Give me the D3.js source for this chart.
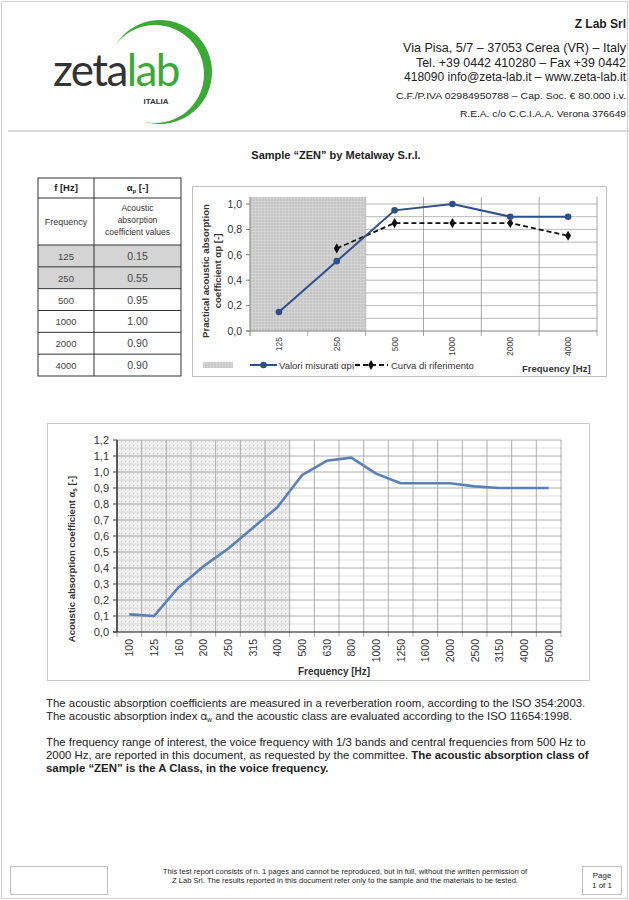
<!DOCTYPE html>
<html><head><meta charset="utf-8">
<script src="https://cdn.jsdelivr.net/npm/d3@7"></script>
<style>
html,body{margin:0;padding:0;background:#fff;}
svg{display:block;font-family:"Liberation Sans",Arial,sans-serif;}
</style></head>
<body>
<svg id="page" width="629" height="900"></svg>
<script>
// ---------- data ----------
const topCats = ["125","250","500","1000","2000","4000"];
const measured = [0.15,0.55,0.95,1.00,0.90,0.90];
const reference = [null,0.65,0.85,0.85,0.85,0.75];
const topYTicks = [0,0.2,0.4,0.6,0.8,1.0];
const shadedTop = ["125","250"];

const thirdOctave = ["100","125","160","200","250","315","400","500","630","800","1000","1250","1600","2000","2500","3150","4000","5000"];
const alphaS = [0.11,0.10,0.28,0.41,0.52,0.65,0.78,0.98,1.07,1.09,0.99,0.93,0.93,0.93,0.91,0.90,0.90,0.90];
const bottomYTicks = [0,0.1,0.2,0.3,0.4,0.5,0.6,0.7,0.8,0.9,1.0,1.1,1.2];
const shadedBottom = ["100","125","160","200","250","315","400"];

const headerLines = [
  "Via Pisa, 5/7 \u2013 37053 Cerea (VR) \u2013 Italy",
  "Tel. +39 0442 410280 \u2013 Fax +39 0442",
  "418090 info@zeta-lab.it \u2013 www.zeta-lab.it"
];
const headerSmall = [
  "C.F./P.IVA 02984950788 \u2013 Cap. Soc. \u20ac 80.000 i.v.",
  "R.E.A. c/o C.C.I.A.A. Verona 376649"
];

// ---------- page ----------
const svg = d3.select("#page");
const fmtComma = d => d3.format(".1f")(d).replace(".", ",");
const defs = svg.append("defs");

const p1 = defs.append("pattern").attr("id","hatchTop").attr("width",3).attr("height",3).attr("patternUnits","userSpaceOnUse");
p1.append("rect").attr("width",3).attr("height",3).attr("fill","#c4c4c4");
p1.append("path").attr("d","M0,0.5H3M0.5,0V3").attr("stroke","#d6d6d6").attr("stroke-width",0.8);
const p2 = defs.append("pattern").attr("id","dotsBottom").attr("width",4).attr("height",4).attr("patternUnits","userSpaceOnUse");
p2.append("rect").attr("width",4).attr("height",4).attr("fill","#efefef");
p2.append("rect").attr("x",1).attr("y",1).attr("width",1).attr("height",1).attr("fill","#c9c9c9");

svg.append("rect").attr("x",1.5).attr("y",1.5).attr("width",626).attr("height",897)
  .attr("fill","none").attr("stroke","#d0d0d0").attr("stroke-width",1);
svg.append("line").attr("x1",8).attr("x2",629).attr("y1",131).attr("y2",131)
  .attr("stroke","#c8c8c8").attr("stroke-width",1.5);

// logo
const logoMask = defs.append("mask").attr("id","crescent");
logoMask.append("rect").attr("width",629).attr("height",200).attr("fill","#fff");
logoMask.append("circle").attr("cx",155).attr("cy",74).attr("r",49).attr("fill","#000");
svg.append("circle").attr("cx",160).attr("cy",72).attr("r",52).attr("fill","#3aa935").attr("mask","url(#crescent)");
const logoText = svg.append("text").attr("x",53).attr("y",86).attr("font-family","Lato, 'Open Sans', sans-serif")
  .attr("font-size",44).attr("letter-spacing",-1.6);
logoText.append("tspan").attr("fill","#333333").text("zeta");
logoText.append("tspan").attr("fill","#3aa935").text("lab");
svg.append("text").attr("x",156).attr("y",104).attr("text-anchor","middle").attr("font-size",8)
  .attr("font-weight","bold").attr("fill","#333").text("ITALIA");

// header text
svg.append("text").attr("x",626).attr("y",28).attr("text-anchor","end").attr("font-size",12)
  .attr("font-weight","bold").attr("fill","#222").text("Z Lab Srl");
const hw = [223, 210, 222];
headerLines.forEach((t,i) => {
  svg.append("text").attr("x",626).attr("y",52 + i*14.5).attr("text-anchor","end")
    .attr("font-size",12).attr("fill","#222").attr("textLength",hw[i]).attr("lengthAdjust","spacingAndGlyphs").text(t);
});
const sw = [230, 166];
headerSmall.forEach((t,i) => {
  svg.append("text").attr("x",626).attr("y",99 + i*18).attr("text-anchor","end")
    .attr("font-size",9).attr("fill","#222").attr("textLength",sw[i]).attr("lengthAdjust","spacingAndGlyphs").text(t);
});

svg.append("text").attr("x",336).attr("y",159).attr("text-anchor","middle").attr("font-size",11)
  .attr("font-weight","bold").attr("fill","#222").text("Sample \u201cZEN\u201d by Metalway S.r.l.");

// ---------- table ----------
const tx0 = 38, tx1 = 94, tx2 = 181;
const ty0 = 178, ty1 = 198, ty2 = 245, ty3 = 376;
const rowY = d3.scaleBand().domain(topCats).range([ty2, ty3]);
const tg = svg.append("g");
shadedTop.forEach(c => {
  tg.append("rect").attr("x",tx0).attr("y",rowY(c)).attr("width",tx2-tx0).attr("height",rowY.bandwidth()).attr("fill","#d4d4d4");
});
tg.append("rect").attr("x",tx0).attr("y",ty0).attr("width",tx2-tx0).attr("height",ty3-ty0)
  .attr("fill","none").attr("stroke","#333").attr("stroke-width",1);
tg.append("line").attr("x1",tx1).attr("x2",tx1).attr("y1",ty0).attr("y2",ty3).attr("stroke","#333");
[ty1, ty2].concat(topCats.slice(1).map(c => rowY(c))).forEach(y => {
  tg.append("line").attr("x1",tx0).attr("x2",tx2).attr("y1",y).attr("y2",y).attr("stroke","#333").attr("stroke-width",1);
});
const cx1 = (tx0+tx1)/2, cx2 = (tx1+tx2)/2;
tg.append("text").attr("x",cx1).attr("y",191).attr("text-anchor","middle").attr("font-size",9.5).attr("font-weight","bold").attr("fill","#222").text("f [Hz]");
const ah = tg.append("text").attr("x",cx2).attr("y",191).attr("text-anchor","middle").attr("font-size",9.5).attr("font-weight","bold").attr("fill","#222");
ah.append("tspan").text("\u03b1");
ah.append("tspan").attr("font-size",6).attr("dy",2).text("p");
ah.append("tspan").attr("dy",-2).text(" [-]");
tg.append("text").attr("x",cx1).attr("y",225).attr("text-anchor","middle").attr("font-size",9).attr("fill","#333").text("Frequency");
["Acoustic","absorption","coefficient values"].forEach((t,i) => {
  tg.append("text").attr("x",cx2).attr("y",211 + i*12).attr("text-anchor","middle").attr("font-size",8.5).attr("fill","#333").text(t);
});
topCats.forEach((c,i) => {
  const yy = rowY(c) + rowY.bandwidth()/2 + 4;
  tg.append("text").attr("x",cx1).attr("y",yy).attr("text-anchor","middle").attr("font-size",9.5).attr("fill","#444").text(c);
  tg.append("text").attr("x",cx2).attr("y",yy).attr("text-anchor","middle").attr("font-size",10.5).attr("fill","#444").text(d3.format(".2f")(measured[i]));
});

// ---------- top chart ----------
svg.append("rect").attr("x",192.5).attr("y",186.5).attr("width",414).attr("height",190)
  .attr("fill","#fff").attr("stroke","#c0c0c0");
const xT = d3.scaleBand().domain(topCats).range([250, 597]);
const yT = d3.scaleLinear().domain([0, 1.055]).range([331, 197]);
const gT = svg.append("g");
d3.range(1, 11).map(v => v/10).forEach(v => {
  gT.append("line").attr("x1",250).attr("x2",597).attr("y1",yT(v)).attr("y2",yT(v)).attr("stroke","#a8a8a8").attr("stroke-width",0.8);
});
topCats.forEach(c => {
  const xr = xT(c) + xT.bandwidth();
  gT.append("line").attr("x1",xr).attr("x2",xr).attr("y1",yT(1.055)).attr("y2",yT(0)+5).attr("stroke","#909090").attr("stroke-width",0.8);
});
gT.append("rect").attr("x",xT(shadedTop[0])).attr("y",yT(1.055))
  .attr("width",xT(shadedTop[shadedTop.length-1]) + xT.bandwidth() - xT(shadedTop[0]))
  .attr("height",yT(0)-yT(1.055)).attr("fill","url(#hatchTop)");
gT.append("line").attr("x1",250).attr("x2",250).attr("y1",yT(1.055)).attr("y2",yT(0)).attr("stroke","#808080");
gT.append("line").attr("x1",246).attr("x2",597).attr("y1",yT(0)).attr("y2",yT(0)).attr("stroke","#808080");
gT.append("line").attr("x1",250).attr("x2",250).attr("y1",yT(0)).attr("y2",yT(0)+5).attr("stroke","#808080");
topYTicks.forEach(v => {
  gT.append("line").attr("x1",246).attr("x2",250).attr("y1",yT(v)).attr("y2",yT(v)).attr("stroke","#808080");
  gT.append("text").attr("x",242).attr("y",yT(v)+3.8).attr("text-anchor","end").attr("font-size",10.5).attr("fill","#333").text(fmtComma(v));
});
topCats.forEach(c => {
  const xc = xT(c) + xT.bandwidth()/2;
  gT.append("text").attr("transform",`translate(${xc+3},337) rotate(-90)`).attr("text-anchor","end")
    .attr("font-size",8.5).attr("fill","#444").text(c);
});
gT.append("text").attr("transform",`translate(209,271) rotate(-90)`).attr("text-anchor","middle")
  .attr("font-size",9.6).attr("font-weight","bold").attr("fill","#333").text("Practical acoustic absorption");
gT.append("text").attr("transform",`translate(221,271) rotate(-90)`).attr("text-anchor","middle")
  .attr("font-size",9.6).attr("font-weight","bold").attr("fill","#333").text("coefficient \u03b1p [-]");
const lineT = d3.line().defined(d => d[1] != null).x(d => xT(d[0]) + xT.bandwidth()/2).y(d => yT(d[1]));
const refData = topCats.map((c,i) => [c, reference[i]]);
const measData = topCats.map((c,i) => [c, measured[i]]);
gT.append("path").attr("d",lineT(refData)).attr("fill","none").attr("stroke","#111").attr("stroke-width",1.8).attr("stroke-dasharray","5,3");
gT.selectAll(".rm").data(refData.filter(d => d[1] != null)).join("path")
  .attr("transform",d => `translate(${xT(d[0]) + xT.bandwidth()/2},${yT(d[1])})`)
  .attr("d", d3.symbol().type(d3.symbolDiamond).size(30)).attr("fill","#111");
gT.append("path").attr("d",lineT(measData)).attr("fill","none").attr("stroke","#2f4e8c").attr("stroke-width",2);
gT.selectAll(".mm").data(measData).join("circle")
  .attr("cx",d => xT(d[0]) + xT.bandwidth()/2).attr("cy",d => yT(d[1])).attr("r",3.3).attr("fill","#2f4e8c");
gT.append("rect").attr("x",203).attr("y",362).attr("width",30).attr("height",6).attr("fill","url(#hatchTop)");
gT.append("line").attr("x1",250).attr("x2",277).attr("y1",365).attr("y2",365).attr("stroke","#2f4e8c").attr("stroke-width",2);
gT.append("circle").attr("cx",263.5).attr("cy",365).attr("r",3.3).attr("fill","#2f4e8c");
gT.append("text").attr("x",279).attr("y",368.5).attr("font-size",9.5).attr("fill","#333").text("Valori misurati \u03b1pi");
gT.append("line").attr("x1",355).attr("x2",388).attr("y1",365).attr("y2",365).attr("stroke","#111").attr("stroke-width",1.8).attr("stroke-dasharray","5,3");
gT.append("path").attr("transform","translate(371,365)").attr("d",d3.symbol().type(d3.symbolDiamond).size(30)).attr("fill","#111");
gT.append("text").attr("x",391).attr("y",368.5).attr("font-size",9.5).attr("fill","#333").text("Curva di riferimento");
gT.append("text").attr("x",522).attr("y",372).attr("font-size",9.5).attr("font-weight","bold").attr("fill","#333").text("Frequency [Hz]");

// ---------- bottom chart ----------
svg.append("rect").attr("x",47.5).attr("y",423.5).attr("width",542).attr("height",257)
  .attr("fill","#fff").attr("stroke","#c8c8c8");
const xB = d3.scaleBand().domain(thirdOctave).range([117, 561]);
const yB = d3.scaleLinear().domain([0, 1.2]).range([632, 440]);
const gB = svg.append("g");
gB.append("rect").attr("x",xB(shadedBottom[0])).attr("y",yB(1.2))
  .attr("width",xB(shadedBottom[shadedBottom.length-1]) + xB.bandwidth() - xB(shadedBottom[0]))
  .attr("height",yB(0)-yB(1.2)).attr("fill","url(#dotsBottom)");
d3.range(1, 24, 2).map(v => v/20).forEach(v => {
  gB.append("line").attr("x1",117).attr("x2",561).attr("y1",yB(v)).attr("y2",yB(v)).attr("stroke","#d6d6d6").attr("stroke-width",0.8);
});
bottomYTicks.slice(1).forEach(v => {
  gB.append("line").attr("x1",117).attr("x2",561).attr("y1",yB(v)).attr("y2",yB(v)).attr("stroke","#9a9a9a").attr("stroke-width",0.8);
});
thirdOctave.forEach(c => {
  const xr = xB(c) + xB.bandwidth();
  gB.append("line").attr("x1",xr).attr("x2",xr).attr("y1",yB(1.2)).attr("y2",yB(0)+5).attr("stroke","#9a9a9a").attr("stroke-width",0.8);
});
gB.append("line").attr("x1",117).attr("x2",117).attr("y1",yB(1.2)).attr("y2",yB(0)+5).attr("stroke","#9a9a9a");
gB.append("line").attr("x1",117).attr("x2",117).attr("y1",yB(1.2)).attr("y2",yB(0)).attr("stroke","#111").attr("stroke-width",1.2);
gB.append("line").attr("x1",113).attr("x2",561).attr("y1",yB(0)).attr("y2",yB(0)).attr("stroke","#111").attr("stroke-width",1.2);
bottomYTicks.forEach(v => {
  gB.append("line").attr("x1",113).attr("x2",117).attr("y1",yB(v)).attr("y2",yB(v)).attr("stroke","#444");
  gB.append("text").attr("x",109).attr("y",yB(v)+4).attr("text-anchor","end").attr("font-size",11).attr("fill","#333").text(fmtComma(v));
});
thirdOctave.forEach(c => {
  const xc = xB(c) + xB.bandwidth()/2;
  gB.append("text").attr("transform",`translate(${xc+4},639) rotate(-90)`).attr("text-anchor","end")
    .attr("font-size",10.5).attr("fill","#333").text(c);
});
const yTB = gB.append("text").attr("transform","translate(75,559) rotate(-90)").attr("text-anchor","middle")
  .attr("font-size",9.5).attr("font-weight","bold").attr("fill","#333");
yTB.append("tspan").text("Acoustic absorption coefficient \u03b1");
yTB.append("tspan").attr("font-size",6.5).attr("dy",2).text("s");
yTB.append("tspan").attr("dy",-2).text(" [-]");
gB.append("text").attr("x",334).attr("y",675).attr("text-anchor","middle").attr("font-size",10)
  .attr("font-weight","bold").attr("fill","#333").text("Frequency [Hz]");
const lineB = d3.line().x((d,i) => xB(thirdOctave[i]) + xB.bandwidth()/2).y(d => yB(d));
gB.append("path").attr("d",lineB(alphaS)).attr("fill","none").attr("stroke","#5a80b8").attr("stroke-width",2.6).attr("stroke-linejoin","round");

// ---------- paragraphs ----------
const para = svg.append("g").attr("font-size",11.4).attr("fill","#222");
para.append("text").attr("x",46).attr("y",707).text("The acoustic absorption coefficients are measured in a reverberation room, according to the ISO 354:2003.");
const l2 = para.append("text").attr("x",46).attr("y",720);
l2.append("tspan").text("The acoustic absorption index \u03b1");
l2.append("tspan").attr("font-size",7).attr("dy",2).text("w");
l2.append("tspan").attr("dy",-2).text(" and the acoustic class are evaluated according to the ISO 11654:1998.");
para.append("text").attr("x",46).attr("y",746).text("The frequency range of interest, the voice frequency with 1/3 bands and central frequencies from 500 Hz to");
const l4 = para.append("text").attr("x",46).attr("y",759);
l4.append("tspan").text("2000 Hz, are reported in this document, as requested by the committee. ");
l4.append("tspan").attr("font-weight","bold").text("The acoustic absorption class of");
para.append("text").attr("x",46).attr("y",772).attr("font-weight","bold").text("sample \u201cZEN\u201d is the A Class, in the voice frequency.");

// ---------- footer ----------
svg.append("rect").attr("x",10.5).attr("y",866.5).attr("width",97).attr("height",28).attr("fill","none").attr("stroke","#c0c0c0");
svg.append("rect").attr("x",582.5).attr("y",866.5).attr("width",39).attr("height",28).attr("fill","none").attr("stroke","#c0c0c0");
svg.append("text").attr("x",602).attr("y",878).attr("text-anchor","middle").attr("font-size",8).attr("fill","#222").text("Page");
svg.append("text").attr("x",602).attr("y",888).attr("text-anchor","middle").attr("font-size",8).attr("fill","#222").text("1 of 1");
svg.append("text").attr("x",345).attr("y",874).attr("text-anchor","middle").attr("font-size",7.6).attr("fill","#222")
  .text("This test report consists of n. 1 pages and cannot be reproduced, but in full, without the written permission of");
svg.append("text").attr("x",345).attr("y",883).attr("text-anchor","middle").attr("font-size",7.6).attr("fill","#222")
  .text("Z Lab Srl. The results reported in this document refer only to the sample and the materials to be tested.");
</script>
</body></html>
